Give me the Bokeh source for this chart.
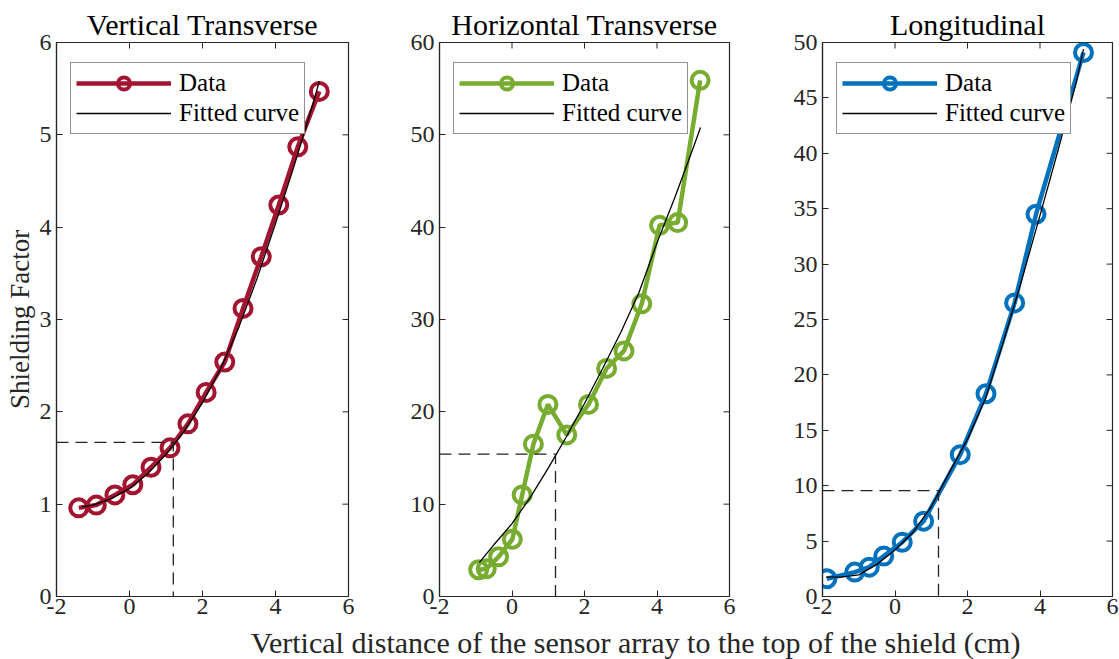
from bokeh.plotting import figure
from bokeh.models import (Range1d, FixedTicker, Legend, LegendItem, Label)
from bokeh.layouts import row, column
from bokeh.embed import file_html
from bokeh.resources import INLINE

# ---------------- data ----------------
titles = ["Vertical Transverse", "Horizontal Transverse", "Longitudinal"]
colors = ["#A2142F", "#77AC30", "#0072BD"]

vt_x = [-1.39, -0.91, -0.40, 0.09, 0.59, 1.11, 1.60, 2.10, 2.61, 3.11, 3.61, 4.09, 4.61, 5.20]
vt_y = [0.96, 0.99, 1.10, 1.21, 1.40, 1.61, 1.87, 2.21, 2.54, 3.12, 3.68, 4.24, 4.87, 5.47]
vt_fit_x = [-1.3, -1.0, -0.5, 0.0, 0.5, 1.0, 1.5, 2.0, 2.5, 3.0, 3.5, 4.0, 4.5, 5.0, 5.2]
vt_fit_y = [0.97, 0.99, 1.06, 1.17, 1.33, 1.54, 1.79, 2.10, 2.47, 2.92, 3.45, 4.04, 4.65, 5.30, 5.58]

ht_x = [-0.92, -0.71, -0.37, 0.01, 0.28, 0.59, 0.99, 1.51, 2.11, 2.61, 3.09, 3.58, 4.07, 4.57, 5.19]
ht_y = [2.9, 3.0, 4.3, 6.2, 11.0, 16.5, 20.8, 17.5, 20.8, 24.7, 26.6, 31.7, 40.2, 40.5, 55.9]
ht_fit_x = [-0.9, -0.5, 0.0, 0.5, 1.0, 1.5, 2.0, 2.5, 3.0, 3.5, 4.0, 4.5, 5.0, 5.2]
ht_fit_y = [3.7, 5.6, 7.9, 10.7, 13.9, 17.3, 20.9, 24.7, 28.6, 32.9, 38.3, 43.3, 48.6, 50.8]

lo_x = [-1.88, -1.11, -0.71, -0.31, 0.20, 0.79, 1.80, 2.51, 3.30, 3.89, 5.20]
lo_y = [1.6, 2.2, 2.65, 3.65, 4.9, 6.8, 12.8, 18.3, 26.5, 34.5, 49.1]
lo_fit_x = [-1.9, -1.5, -1.0, -0.5, 0.0, 0.5, 1.0, 1.5, 2.0, 2.5, 3.0, 3.5, 4.0, 4.5, 5.0, 5.2]
lo_fit_y = [1.75, 1.75, 1.95, 2.9, 4.2, 5.8, 8.1, 11.2, 14.2, 17.9, 23.1, 28.6, 34.4, 40.3, 46.4, 49.4]

mark_x = [1.2, 1.2, 1.2]
mark_y = [1.67, 15.43, 9.55]

y_max = [6, 60, 50]
y_ticks = [list(range(0, 7, 1)), list(range(0, 61, 10)), list(range(0, 51, 5))]
x_ticks = [-2, 0, 2, 4, 6]
x_labels = {-2: "-2", 0: "0", 2: "2", 4: "4", 6: "6"}
x_min, x_max = -2, 6

xs = [vt_x, ht_x, lo_x]
ys = [vt_y, ht_y, lo_y]
fxs = [vt_fit_x, ht_fit_x, lo_fit_x]
fys = [vt_fit_y, ht_fit_y, lo_fit_y]

FONT = "Liberation Serif"
AX = "#262626"

# figure geometry (width, border_left, border_right)
geo = [(395, 56, 47), (386, 44, 52), (338, 41, 7)]
H, BT, BB = 624, 42, 28

figs = []
for i in range(3):
    w, bl, br = geo[i]
    p = figure(width=w, height=H, output_backend="svg", toolbar_location=None,
               x_range=Range1d(x_min, x_max), y_range=Range1d(0, y_max[i]),
               min_border_left=bl, min_border_right=br, min_border_top=BT,
               min_border_bottom=BB, title=titles[i])
    p.title.text_font = FONT
    p.title.text_font_size = "30px"
    p.title.text_font_style = "normal"
    p.title.text_color = "#000000"
    p.title.align = "center"
    p.title.standoff = 3
    p.xgrid.visible = False
    p.ygrid.visible = False
    p.outline_line_color = AX
    p.outline_line_width = 1.2
    p.background_fill_color = "white"
    p.border_fill_color = "white"

    for ax in (p.xaxis[0], p.yaxis[0]):
        ax.major_label_text_font = FONT
        ax.major_label_text_font_size = "24px"
        ax.major_label_text_color = AX
        ax.axis_line_color = AX
        ax.axis_line_width = 1.2
        ax.major_tick_line_color = AX
        ax.major_tick_in = 6
        ax.major_tick_out = 0
        ax.minor_tick_line_color = None
    p.xaxis[0].ticker = FixedTicker(ticks=x_ticks)
    p.xaxis[0].major_label_overrides = x_labels
    p.yaxis[0].ticker = FixedTicker(ticks=y_ticks[i])
    p.yaxis[0].major_label_standoff = 5
    p.xaxis[0].major_label_standoff = 2

    # mirrored inward ticks on top and right edges (half of each dash is clipped by the frame)
    p.scatter(x_ticks, [y_max[i]] * len(x_ticks), marker="dash", angle=1.5708, size=12,
              line_color=AX, line_width=1)
    p.scatter([x_max] * len(y_ticks[i]), y_ticks[i], marker="dash", size=12,
              line_color=AX, line_width=1)

    if i == 0:
        p.yaxis[0].axis_label = "Shielding Factor"
        p.yaxis[0].axis_label_text_font = FONT
        p.yaxis[0].axis_label_text_font_size = "27px"
        p.yaxis[0].axis_label_text_font_style = "normal"
        p.yaxis[0].axis_label_text_color = AX
        p.yaxis[0].axis_label_standoff = 2

    c = colors[i]
    dl = p.line(xs[i], ys[i], line_color=c, line_width=4.5)
    dm = p.scatter(xs[i], ys[i], marker="circle", size=17, line_color=c, line_width=4,
                   fill_color=None)
    fl = p.line(fxs[i], fys[i], line_color="black", line_width=1.3)
    p.line([x_min, mark_x[i], mark_x[i]], [mark_y[i], mark_y[i], 0], line_color="#222222",
           line_width=1.3, line_dash="12 7")

    leg = Legend(items=[LegendItem(label="Data", renderers=[dl, dm]),
                        LegendItem(label="Fitted curve", renderers=[fl])],
                 location=(14, 554 - 22 - 70))
    leg.label_text_font = FONT
    leg.label_text_font_size = "25px"
    leg.label_text_color = "#000000"
    leg.glyph_width = 95
    leg.glyph_height = 30
    leg.label_height = 30
    leg.label_standoff = 8
    leg.spacing = 0
    leg.padding = 5
    leg.margin = 0
    leg.border_line_color = AX
    leg.border_line_width = 1.2
    leg.background_fill_alpha = 1
    p.add_layout(leg)
    figs.append(p)

LH = 659 - H
lab = figure(width=1119, height=LH, output_backend="svg", toolbar_location=None,
             x_range=Range1d(0, 1119), y_range=Range1d(0, LH),
             min_border=0)
lab.xaxis.visible = False
lab.yaxis.visible = False
lab.xgrid.visible = False
lab.ygrid.visible = False
lab.outline_line_color = None
lab.add_layout(Label(x=635, y=17, x_units="screen", y_units="screen",
                     text="Vertical distance of the sensor array to the top of the shield (cm)",
                     text_font=FONT, text_font_size="30px", text_color=AX,
                     text_align="center", text_baseline="middle"))

layout = column(row(*figs, spacing=0), lab, spacing=0)
open("out.html", "w").write(file_html(layout, INLINE))
